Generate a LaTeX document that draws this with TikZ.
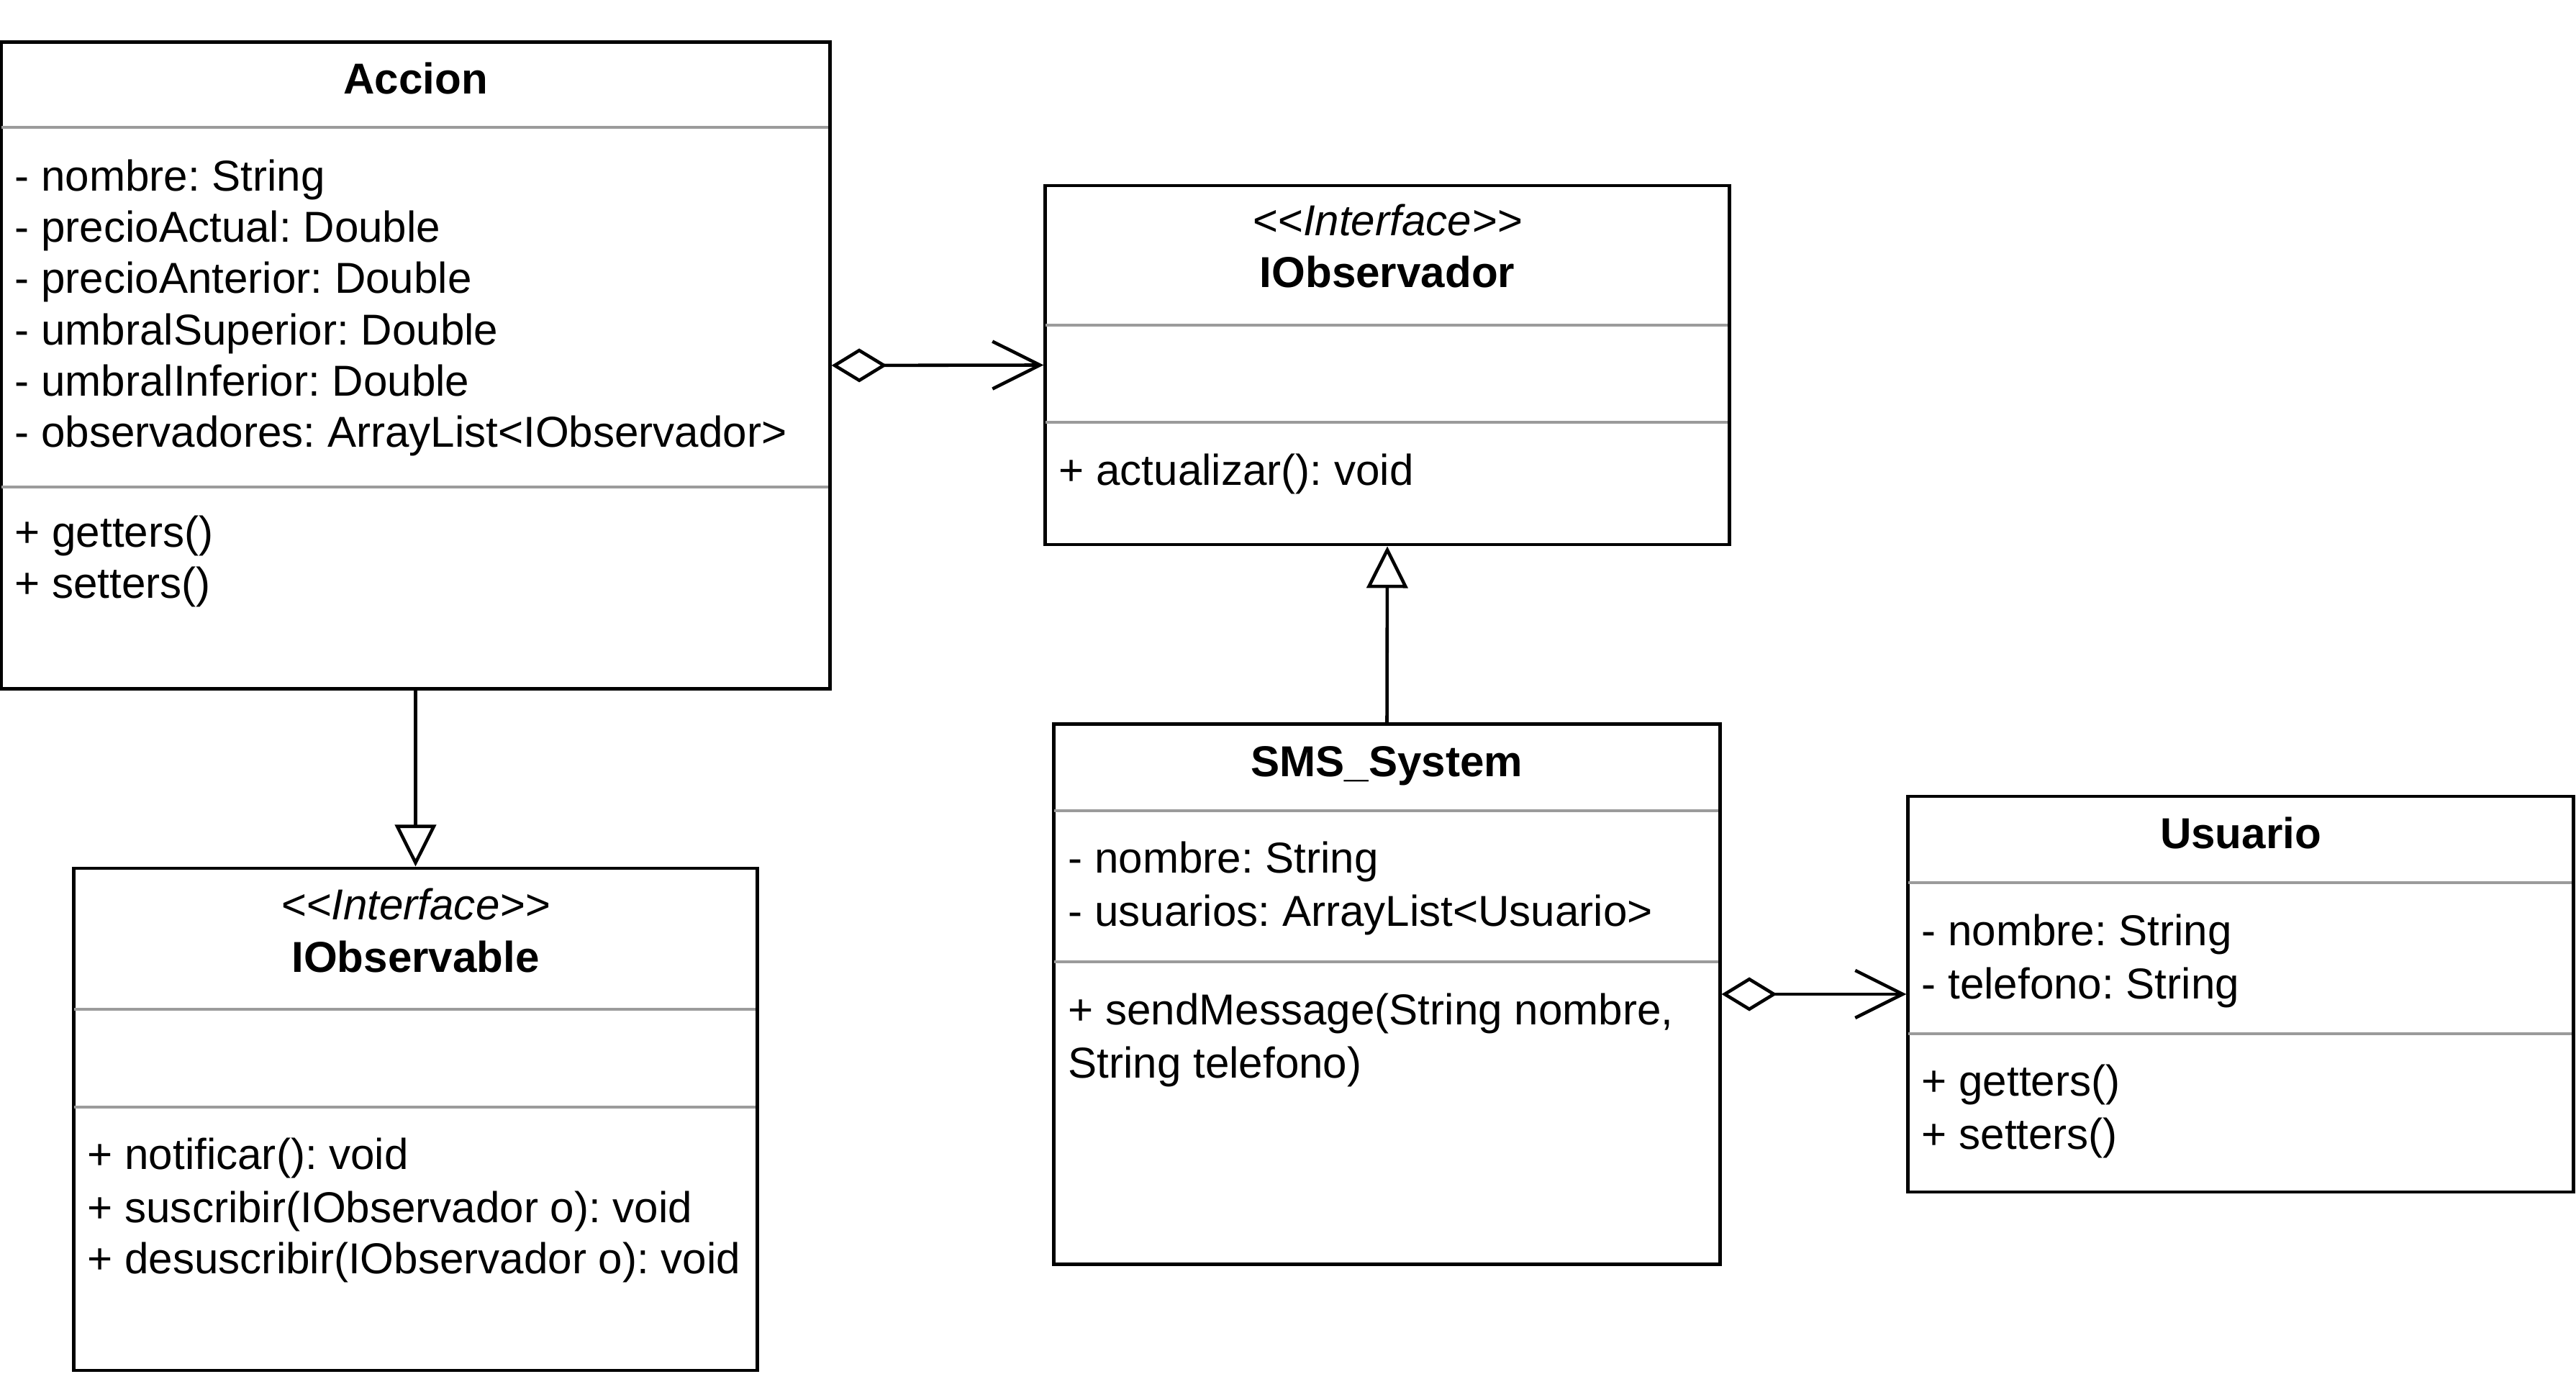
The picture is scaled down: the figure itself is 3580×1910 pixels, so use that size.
\documentclass[tikz,border=0pt]{standalone}
\usepackage{fontspec}
\setmainfont{Liberation Sans}
\usetikzlibrary{arrows.meta}
\definecolor{sepgray}{RGB}{155,155,155}
\frenchspacing
\begin{document}
\begin{tikzpicture}[x=0.01cm,y=-0.01cm,
  umlbox/.style={draw=black, line width=1.3pt, fill=white, inner sep=0pt},
  sepline/.style={draw=sepgray, line width=1.3pt},
  txt/.style={anchor=base west, inner sep=0pt, font=\fontsize{17.1pt}{20pt}\selectfont},
  ttl/.style={anchor=base, inner sep=0pt, font=\fontsize{17.1pt}{20pt}\selectfont\bfseries},
  stereo/.style={anchor=base, inner sep=0pt, font=\fontsize{17.1pt}{20pt}\selectfont\itshape},
  conn/.style={draw=black, line width=1.3pt},
  agg/.style={conn, {Diamond[open,length=0.77cm,width=0.47cm]}-{Straight Barb[length=0.66cm,width=0.66cm]}},
  inh/.style={conn, -{Triangle[open,length=0.58cm,width=0.57cm]}}
]
\useasboundingbox (0,0) rectangle (3580,1910);

% ---------- boxes ----------
\node[umlbox, minimum width=11.51cm, minimum height=8.98cm] (accion) at (577.5,508) {};
\node[umlbox, minimum width=9.50cm, minimum height=4.99cm] (iobservador) at (1928,507.5) {};
\node[umlbox, minimum width=9.49cm, minimum height=6.98cm] (iobservable) at (577.5,1556) {};
\node[umlbox, minimum width=9.25cm, minimum height=7.50cm] (sms) at (1927.5,1382) {};
\node[umlbox, minimum width=9.24cm, minimum height=5.50cm] (usuario) at (3114,1382) {};

% ---------- separators ----------
\draw[sepline] (2,177) -- (1151,177);
\draw[sepline] (2,677) -- (1151,677);
\draw[sepline] (1453,452) -- (2401,452);
\draw[sepline] (1453,587) -- (2401,587);
\draw[sepline] (103,1403) -- (1050,1403);
\draw[sepline] (103,1539) -- (1050,1539);
\draw[sepline] (1465,1127) -- (2388,1127);
\draw[sepline] (1465,1337) -- (2388,1337);
\draw[sepline] (2652,1227) -- (3574,1227);
\draw[sepline] (2652,1437) -- (3574,1437);

% ---------- Accion ----------
\node[ttl] (accionT) at (577.5,131) {Accion};
\node[txt] (a1) at (20,266) {- nombre: String};
\node[txt] (a2) at (20,337) {- precioActual: Double};
\node[txt] (a3) at (20,408) {- precioAnterior: Double};
\node[txt] (a4) at (20,480) {- umbralSuperior: Double};
\node[txt] (a5) at (20,551) {- umbralInferior: Double};
\node[txt] (a6) at (20,622) {- observadores: ArrayList<IObservador>};
\node[txt] (a7) at (20,761) {+ getters()};
\node[txt] (a8) at (20,832) {+ setters()};

% ---------- IObservador ----------
\node[stereo] (ioS) at (1928,328) {<{}<Interface>{}>};
\node[ttl] (ioT) at (1928,400) {IObservador};
\node[txt] (io1) at (1471,675) {+ actualizar(): void};

% ---------- IObservable ----------
\node[stereo] (ibS) at (577.5,1279) {<{}<Interface>{}>};
\node[ttl] (ibT) at (577.5,1352) {IObservable};
\node[txt] (ib1) at (121,1626) {+ notificar(): void};
\node[txt] (ib2) at (121,1699) {+ suscribir(IObservador o): void};
\node[txt] (ib3) at (121,1770) {+ desuscribir(IObservador o): void};

% ---------- SMS_System ----------
\node[ttl] (smsT) at (1927.5,1080) {SMS\_System};
\node[txt] (s1) at (1484,1214) {- nombre: String};
\node[txt] (s2) at (1484,1288) {- usuarios: ArrayList<Usuario>};
\node[txt] (s3) at (1484,1425) {+ sendMessage(String nombre,};
\node[txt] (s4) at (1484,1499) {String telefono)};

% ---------- Usuario ----------
\node[ttl] (usT) at (3114,1180) {Usuario};
\node[txt] (u1) at (2670,1315) {- nombre: String};
\node[txt] (u2) at (2670,1389) {- telefono: String};
\node[txt] (u3) at (2670,1524) {+ getters()};
\node[txt] (u4) at (2670,1598) {+ setters()};

% ---------- connectors ----------
\draw[agg] (accion.east) -- (iobservador.west);
\draw[agg] (sms.east) -- (usuario.west);
\draw[inh] (sms.north) -- (iobservador.south);
\draw[inh] (accion.south) -- (iobservable.north);
\end{tikzpicture}
\end{document}
